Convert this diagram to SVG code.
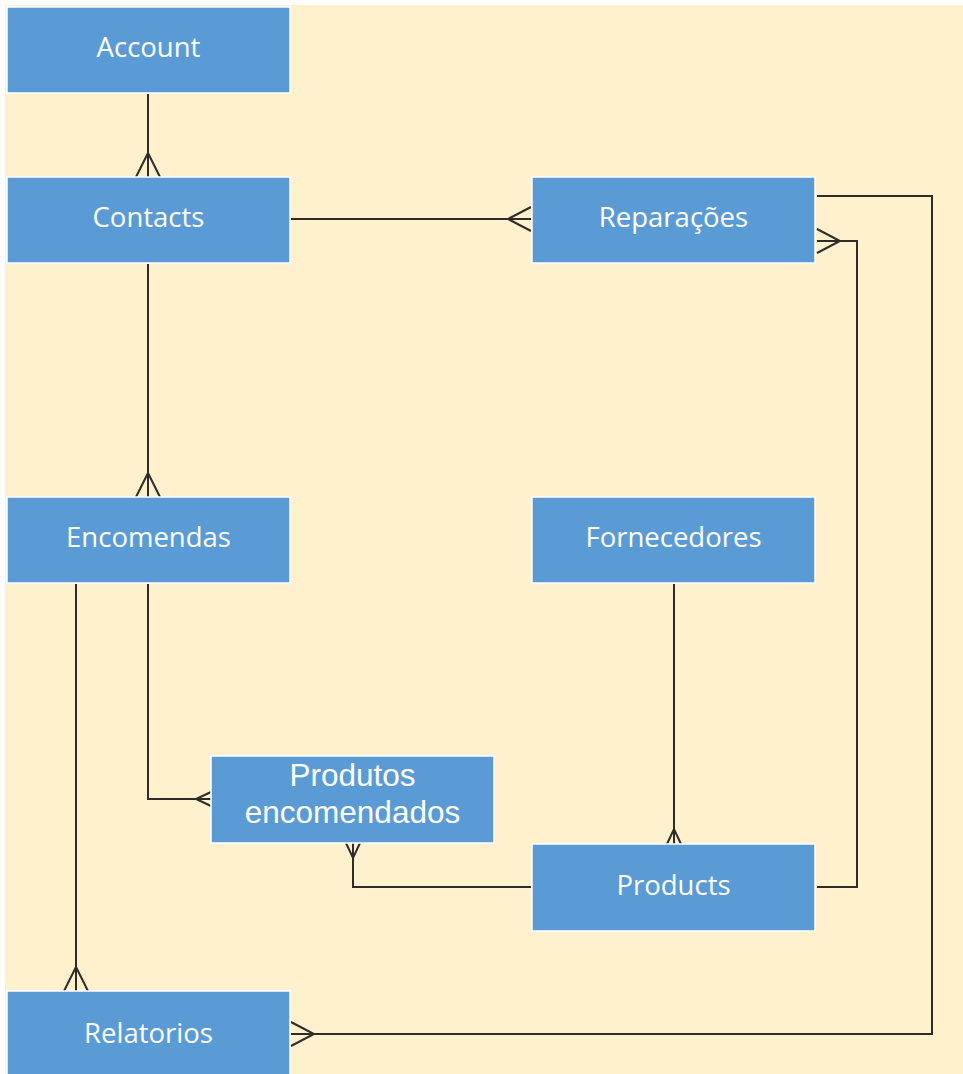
<svg xmlns="http://www.w3.org/2000/svg" width="963" height="1074" viewBox="0 0 963 1074">
  <style>
    .entity rect { fill: #5b9bd5; stroke: #ffffff; stroke-width: 1.5; }
    .entity text { fill: #ffffff; font-family: "Open Sans", "Noto Sans", sans-serif; font-size: 27.5px; text-anchor: middle; }
    .entity text.arial { font-family: "Liberation Sans", Arial, sans-serif; font-size: 31.5px; }
    .link { fill: none; stroke: #2e2c28; stroke-width: 2; stroke-linejoin: miter; }
  </style>

  <!-- canvas -->
  <rect x="0" y="0" width="963" height="1074" fill="#ffffff"/>
  <rect x="5" y="5" width="958" height="1069" fill="#fff0ce"/>

  <!-- relationships (crow's foot marks the "many" end) -->
  <g id="connectors">
    <!-- Account 1 - N Contacts -->
    <path class="link" d="M148 94 V177 M136 177 L148 153 L160 177"/>
    <!-- Contacts 1 - N Reparações -->
    <path class="link" d="M291 219 H531 M531 207 L508 219 L531 231"/>
    <!-- Reparações 1 - N Relatorios -->
    <path class="link" d="M817 196 H932 V1034 H291 M291 1022 L314 1034 L291 1046"/>
    <!-- Products 1 - N Reparações -->
    <path class="link" d="M817 887 H857 V241 H817 M817 229 L840 241 L817 253"/>
    <!-- Contacts 1 - N Encomendas -->
    <path class="link" d="M148 264 V497 M136 497 L148 473 L160 497"/>
    <!-- Encomendas 1 - N Relatorios -->
    <path class="link" d="M76 584 V991 M64 991 L76 967 L88 991"/>
    <!-- Encomendas 1 - N Produtos encomendados -->
    <path class="link" d="M148 584 V799 H211 M211 792 L196 799 L211 806"/>
    <!-- Products 1 - N Produtos encomendados -->
    <path class="link" d="M531 887 H353 V843 M346 843 L353 858 L360 843"/>
    <!-- Fornecedores 1 - N Products -->
    <path class="link" d="M674 584 V844 M667 844 L674 829 L681 844"/>
  </g>

  <!-- entities -->
  <g id="account" class="entity">
    <rect x="7" y="7" width="283" height="86"/>
    <text x="148.5" y="57">Account</text>
  </g>
  <g id="contacts" class="entity">
    <rect x="7" y="177" width="283" height="86"/>
    <text x="148.5" y="227">Contacts</text>
  </g>
  <g id="reparacoes" class="entity">
    <rect x="532" y="177" width="283" height="86"/>
    <text x="673.5" y="227">Reparações</text>
  </g>
  <g id="encomendas" class="entity">
    <rect x="7" y="497" width="283" height="86"/>
    <text x="148.5" y="547">Encomendas</text>
  </g>
  <g id="fornecedores" class="entity">
    <rect x="532" y="497" width="283" height="86"/>
    <text x="673.5" y="547">Fornecedores</text>
  </g>
  <g id="produtos-encomendados" class="entity">
    <rect x="211" y="756" width="283" height="87"/>
    <text class="arial" x="352.5" y="786">Produtos</text>
    <text class="arial" x="352.5" y="823">encomendados</text>
  </g>
  <g id="products" class="entity">
    <rect x="532" y="844" width="283" height="87"/>
    <text x="673.5" y="895">Products</text>
  </g>
  <g id="relatorios" class="entity">
    <rect x="7" y="991" width="283" height="90"/>
    <text x="148.5" y="1043">Relatorios</text>
  </g>
</svg>
